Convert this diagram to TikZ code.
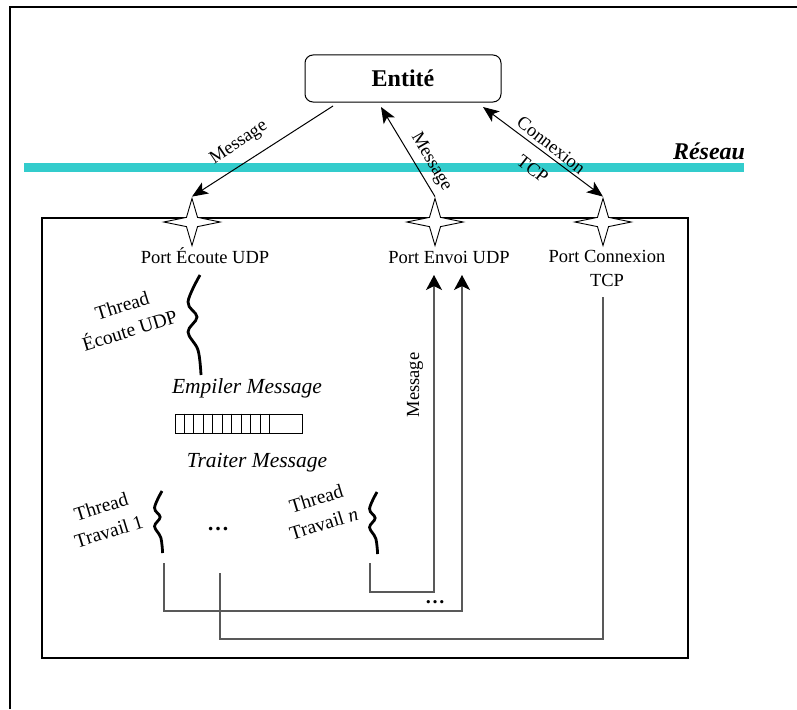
\documentclass[tikz,border=0pt]{standalone}
\usepackage{fontspec}
\setmainfont{Liberation Serif}
\usetikzlibrary{arrows.meta,shapes.geometric}
\definecolor{netcyan}{RGB}{51,204,204}
\begin{document}
\begin{tikzpicture}[x=1pt,y=-1pt,
  lbl/.style={font=\fontsize{18.5}{24}\selectfont, inner sep=0pt},
  thr/.style={font=\fontsize{19.5}{26}\selectfont, align=center, inner sep=0pt, rotate=17},
  act/.style={font=\fontsize{21.5}{25}\selectfont\itshape, inner sep=0pt, anchor=base},
  port/.style={draw=black, fill=white, shape=star, star points=4, star point ratio=3.6,
    minimum size=47pt, inner sep=0pt, line width=0.9pt, xscale=1.2, transform shape},
  bigtip/.tip={Stealth[length=16pt,width=13pt,inset=4pt]},
  uptip/.tip={Stealth[length=15pt,width=16pt,inset=4pt,color=black]},
  net/.style={draw=black, line width=1pt},
  wire/.style={draw=black!65, line width=1.1pt},
  squig/.style={draw=black, line width=2.8pt},
  thread/.pic={\draw[squig] plot[smooth, tension=0.6] coordinates
    {(0,0) (-12,27) (-3,42) (-12,57) (-2,75) (1,100)};},
]
\useasboundingbox (0,0) rectangle (797,709);

% outer frame
\draw[line width=2pt] (10,709) -- (10,7) -- (797,7);

% network
\coordinate (netL) at (24,167);
\coordinate (netR) at (744,167);
\draw[line width=9pt, netcyan] (netL) -- (netR);
\node[font=\fontsize{24}{28}\selectfont\bfseries\itshape, anchor=base, inner sep=0pt] (reseau) at (709,159) {Réseau};

% entity
\node[draw, rounded corners=8pt, minimum width=196pt, minimum height=47pt, line width=1pt,
  font=\fontsize{24}{28}\selectfont\bfseries] (entite) at (403,78.5) {Entité};

% host box
\draw[line width=1.3pt] (42,218) rectangle (688,658);

% ports
\node[port] (pEcoute) at (192,222) {};
\node[port] (pEnvoi) at (435,222) {};
\node[port] (pConn) at (603,222) {};
\node[lbl, anchor=base] (lEcoute) at (205,263) {Port Écoute UDP};
\node[lbl, anchor=base] (lEnvoi) at (449,263) {Port Envoi UDP};
\node[lbl, align=center, anchor=north] (lConn) at (607,250.5) {Port Connexion\\TCP};

% exchanges with the entity
\coordinate (e1) at (333,106);
\coordinate (e2) at (381,107);
\coordinate (e3) at (483,107);
\draw[net, -bigtip] (e1) -- (pEcoute.north);
\draw[net, -bigtip] (pEnvoi.north) -- (e2);
\draw[net, bigtip-bigtip] (e3) -- (pConn.north);
\node[lbl, rotate=34] (m1) at (239,143) {Message};
\node[lbl, rotate=-60] (m2) at (431,162) {Message};
\node[lbl, align=center, rotate=-38, font=\fontsize{18.5}{30}\selectfont] (m3) at (542,157) {Connexion\\TCP};

% listening thread
\pic at (200,275) {thread};
\node[thr] (tEcoute) at (126,318) {Thread\\Écoute UDP};

% message queue
\node[act] (empiler) at (247,393) {Empiler Message};
\node[draw, minimum width=127pt, minimum height=19pt, inner sep=0pt, line width=1pt] (queue) at (238.5,423.5) {};
\foreach \k in {1,...,10}
  \draw[line width=0.8pt] ([xshift=9.5*\k pt]queue.north west) -- ([xshift=9.5*\k pt]queue.south west);
\node[act] (traiter) at (257,467) {Traiter Message};

% worker threads
\pic[scale=0.62] at (162,491) {thread};
\pic[scale=0.62] at (377,492) {thread};
\node[thr] (tT1) at (105,519) {Thread\\Travail 1};
\node[thr] (tTn) at (320,511) {Thread\\Travail \textit{n}};
\node[font=\fontsize{22}{24}\selectfont\bfseries, inner sep=0pt, anchor=base] (dots1) at (218,530) {…};

% worker outputs
\coordinate (w1) at (164,563);
\coordinate (w2) at (220,573);
\coordinate (w3) at (370,563);
\coordinate (in1) at (434,275);
\coordinate (in2) at (462,275);
\coordinate (cOut) at (603,297);
\draw[wire, -uptip] (w3) -- ++(0,29) -| (in1);
\draw[wire, -uptip] (w1) -- ++(0,48) -| (in2);
\draw[wire] (w2) -- ++(0,66) -| (cOut);
\node[lbl, rotate=90] (m4) at (415,385) {Message};
\node[font=\fontsize{20}{24}\selectfont\bfseries, inner sep=0pt, anchor=base] (dots2) at (435,603) {…};
\end{tikzpicture}
\end{document}
